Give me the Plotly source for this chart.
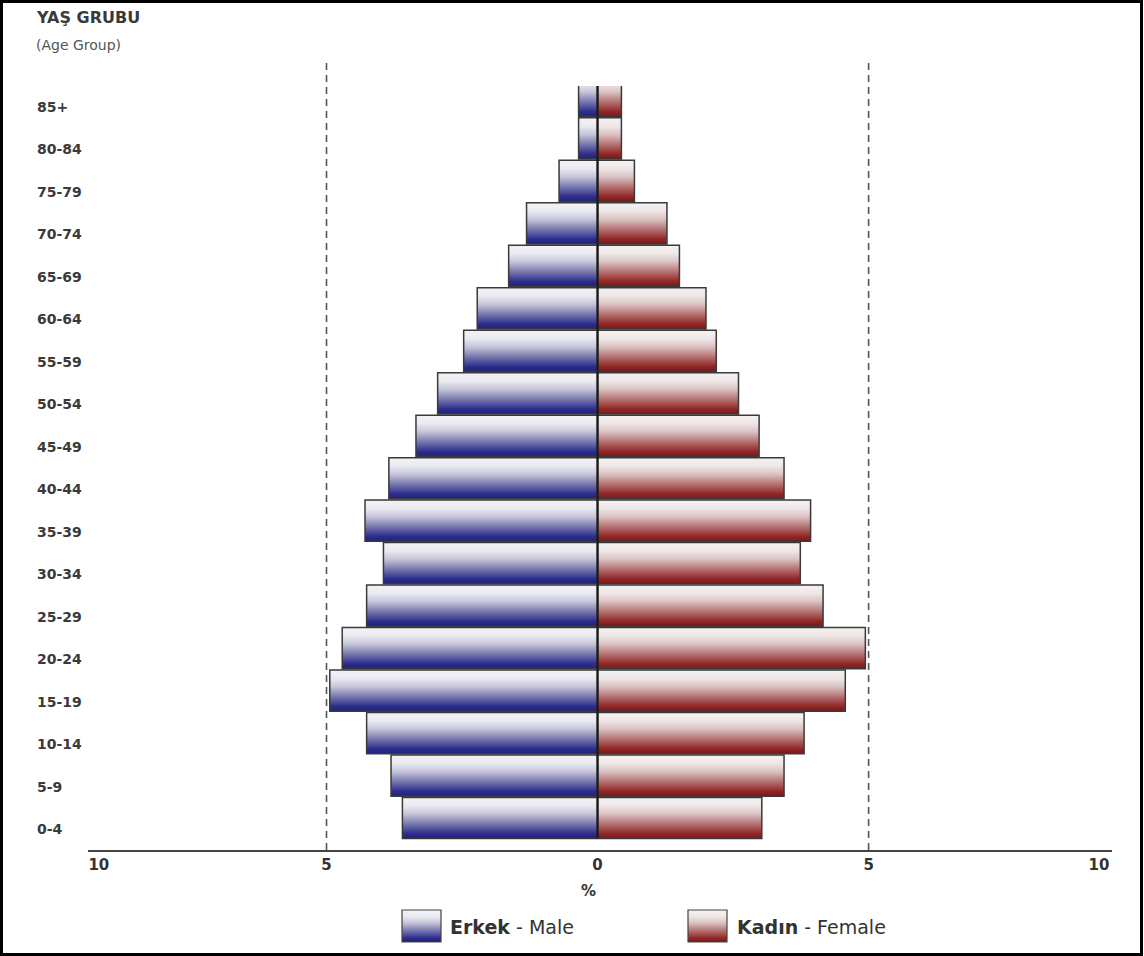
import plotly.graph_objects as go

# ---------------- data ----------------
AGE_GROUPS = ["0-4", "5-9", "10-14", "15-19", "20-24", "25-29", "30-34", "35-39",
              "40-44", "45-49", "50-54", "55-59", "60-64", "65-69", "70-74",
              "75-79", "80-84", "85+"]
MALE = [3.60, 3.81, 4.26, 4.94, 4.71, 4.26, 3.95, 4.29, 3.85, 3.35, 2.95, 2.47,
        2.22, 1.64, 1.31, 0.71, 0.35, 0.35]
FEMALE = [3.03, 3.44, 3.81, 4.57, 4.94, 4.16, 3.74, 3.93, 3.44, 2.98, 2.60, 2.19,
          2.00, 1.51, 1.28, 0.68, 0.44, 0.44]
X_TICK_POS = [-9.2, -5, 0, 5, 9.25]
X_TICK_LABELS = ["10", "5", "0", "5", "10"]
GUIDE_LINES = [-5, 5]

# ---------------- styles ----------------
FONT = "DejaVu Sans, Liberation Sans, Arial, sans-serif"
TXT = "#333333"
BLUE_SCALE = [[0, "#20207c"], [0.12, "#2d2d8e"], [0.35, "#7676ac"],
              [0.6, "#c6c6da"], [0.8, "#eaeaf1"], [1, "#f3f3f6"]]
RED_SCALE = [[0, "#7c1818"], [0.12, "#912727"], [0.35, "#b47070"],
             [0.6, "#dbc3c3"], [0.8, "#efe7e7"], [1, "#f6f2f2"]]
HALF_H = 0.485
Y_RANGE = [-0.753, 17.235]
X_RANGE = [-9.40, 9.49]

W, H = 1144, 956
ML, MR, MT, MB = 88, 32, 86, 106
PW, PH = W - ML - MR, H - MT - MB


def px_x(px):
    return (px - ML) / PW


def px_y(py):
    return (H - MB - py) / PH


def interp(scale, t):
    for (a, ca), (b, cb) in zip(scale[:-1], scale[1:]):
        if a <= t <= b:
            f = (t - a) / (b - a) if b > a else 0
            c1 = [int(ca[i:i + 2], 16) for i in (1, 3, 5)]
            c2 = [int(cb[i:i + 2], 16) for i in (1, 3, 5)]
            c = [round(c1[k] + (c2[k] - c1[k]) * f) for k in range(3)]
            return "rgb(%d,%d,%d)" % tuple(c)
    return scale[-1][1]


fig = go.Figure()

for i, (m, f) in enumerate(zip(MALE, FEMALE)):
    for val, scale in ((-m, BLUE_SCALE), (f, RED_SCALE)):
        fig.add_trace(go.Scatter(
            x=[0, val, val, 0, 0],
            y=[i - HALF_H, i - HALF_H, i + HALF_H, i + HALF_H, i - HALF_H],
            mode="lines", fill="toself",
            fillgradient=dict(type="vertical", colorscale=scale),
            line=dict(color="#3a3a3a", width=1.5),
            hoverinfo="skip", showlegend=False,
        ))

shapes = []
for g in GUIDE_LINES:
    shapes.append(dict(type="line", xref="x", yref="paper", x0=g, x1=g,
                       y0=0, y1=px_y(62), line=dict(color="#555555", width=1.6,
                                                   dash="7px,5px")))
shapes.append(dict(type="line", xref="x", yref="y", x0=0, x1=0,
                   y0=-HALF_H, y1=Y_RANGE[1],
                   line=dict(color="#1a1a1a", width=2.2)))

annotations = []
for i, lab in enumerate(AGE_GROUPS):
    annotations.append(dict(xref="paper", yref="y", x=px_x(35), y=i, yshift=-11,
                            xanchor="left", yanchor="middle", showarrow=False,
                            text="<b>%s</b>" % lab,
                            font=dict(family=FONT, size=14, color="#3a3a3a")))

annotations += [
    dict(xref="paper", yref="paper", x=px_x(34), y=px_y(18), xanchor="left",
         yanchor="middle", showarrow=False, text="<b>YAŞ GRUBU</b>",
         font=dict(family=FONT, size=16, color="#3a3a3a")),
    dict(xref="paper", yref="paper", x=px_x(34), y=px_y(45), xanchor="left",
         yanchor="middle", showarrow=False, text="(Age Group)",
         font=dict(family=FONT, size=14, color="#555555")),
    dict(xref="paper", yref="paper", x=px_x(588), y=px_y(891), xanchor="center",
         yanchor="middle", showarrow=False, text="<b>%</b>",
         font=dict(family=FONT, size=15, color=TXT)),
]

# legend (custom)
LEGEND = [("<b>Erkek</b> - Male", BLUE_SCALE, 402, 448),
          ("<b>Kadın</b> - Female", RED_SCALE, 688, 735)]
BOX_TOP, BOX_BOT = 910, 942
N_STRIPS = BOX_BOT - BOX_TOP
for label, scale, bx, tx in LEGEND:
    for k in range(N_STRIPS):
        t = 1 - (k + 0.5) / N_STRIPS
        shapes.append(dict(type="rect", xref="paper", yref="paper",
                           x0=px_x(bx), x1=px_x(bx + 39),
                           y0=px_y(BOX_TOP + k + 1), y1=px_y(BOX_TOP + k),
                           line=dict(width=0), fillcolor=interp(scale, t)))
    shapes.append(dict(type="rect", xref="paper", yref="paper",
                       x0=px_x(bx), x1=px_x(bx + 39),
                       y0=px_y(BOX_BOT), y1=px_y(BOX_TOP),
                       line=dict(color="#444444", width=1.2)))
    annotations.append(dict(xref="paper", yref="paper", x=px_x(tx), y=px_y(927),
                            xanchor="left", yanchor="middle", showarrow=False,
                            text=label, font=dict(family=FONT, size=19, color=TXT)))

# outer frame
shapes.append(dict(type="rect", xref="paper", yref="paper",
                   x0=px_x(1.5), x1=px_x(1141.5), y0=px_y(954.5), y1=px_y(1.5),
                   line=dict(color="#000000", width=3)))

fig.update_layout(
    width=W, height=H,
    margin=dict(l=ML, r=MR, t=MT, b=MB, pad=0),
    paper_bgcolor="white", plot_bgcolor="white",
    showlegend=False,
    shapes=shapes, annotations=annotations,
    xaxis=dict(range=X_RANGE, tickmode="array", tickvals=X_TICK_POS,
               ticktext=X_TICK_LABELS, showgrid=False, zeroline=False,
               showline=True, linecolor="#444444", linewidth=2, ticks="",
               tickfont=dict(family=FONT, size=15, color=TXT, weight="bold"),
               fixedrange=True),
    yaxis=dict(range=Y_RANGE, showgrid=False, zeroline=False, showline=False,
               showticklabels=False, ticks="", fixedrange=True),
)

fig.write_html(
    "out.html",
    config={"displayModeBar": False},
    post_script="document.body.style.margin='0';document.body.style.overflow='hidden';",
)
